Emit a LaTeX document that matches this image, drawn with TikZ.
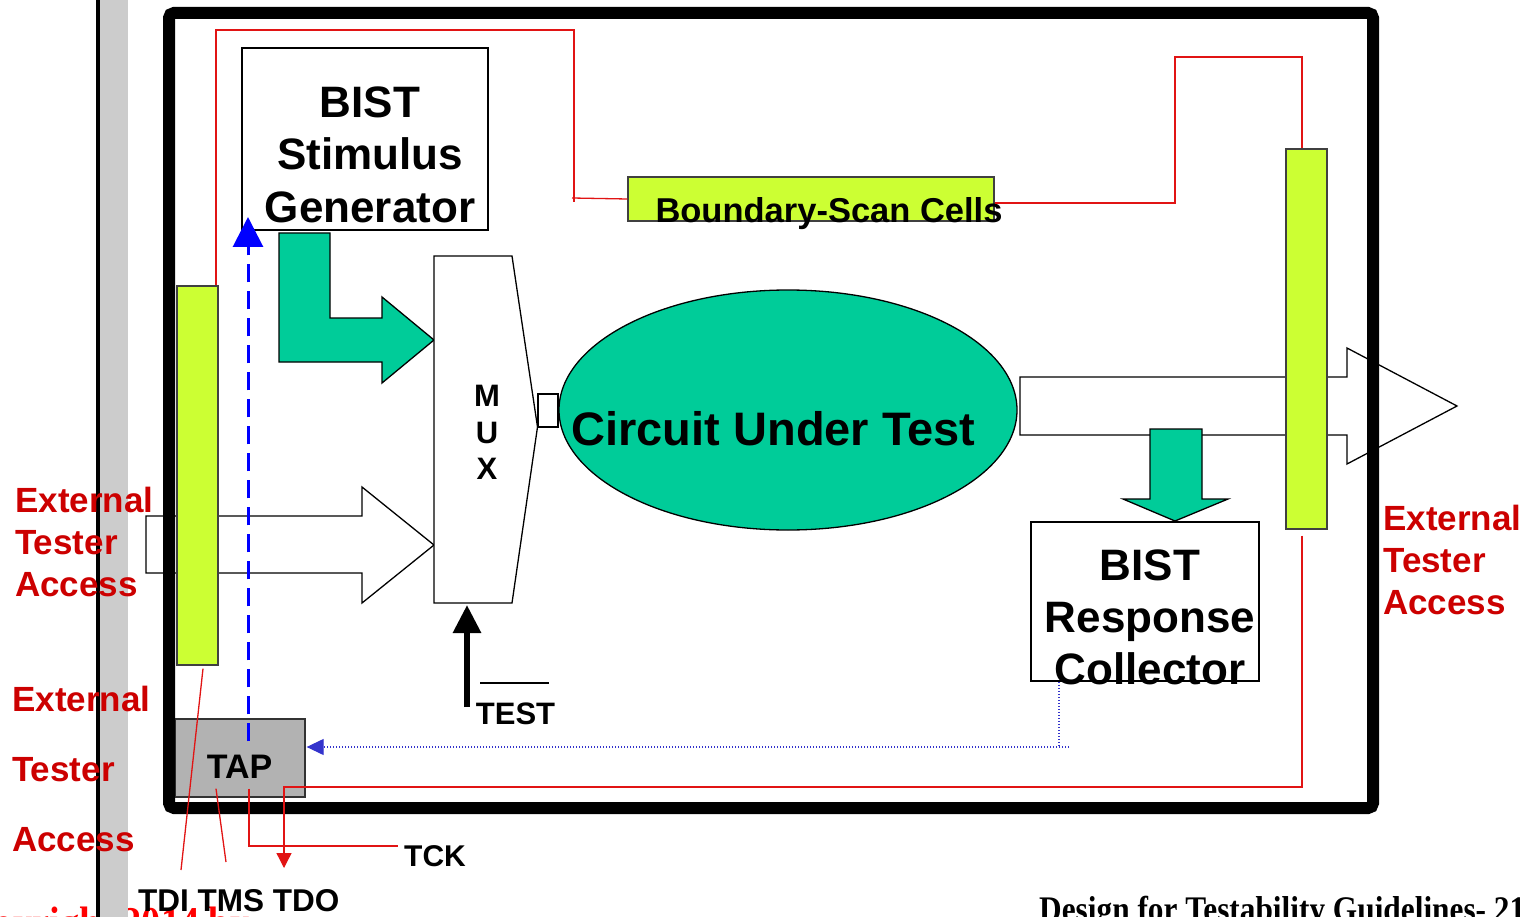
\documentclass[tikz,border=0pt]{standalone}
\usepackage{graphicx}
\usepackage{fontspec}
\setmainfont{Liberation Sans}
\newfontfamily\serifbf{Liberation Serif}
\usetikzlibrary{arrows.meta,shapes.geometric,calc}
\definecolor{cutgreen}{RGB}{0,204,153}
\definecolor{bsyellow}{RGB}{204,255,51}
\definecolor{tapgray}{RGB}{178,178,178}
\definecolor{bandgray}{RGB}{204,204,204}
\definecolor{labelred}{RGB}{204,0,0}
\definecolor{copyred}{RGB}{255,0,0}
\definecolor{wirered}{RGB}{225,20,20}
\definecolor{scanblue}{RGB}{0,0,255}
\definecolor{dotblue}{RGB}{51,51,204}
\tikzset{
  fsz/.style={font=\fontsize{#1}{#1}\selectfont\bfseries},
  box/.style={draw=black, line width=1.5pt, fill=white, inner sep=0pt},
  cellbar/.style={draw=black!75, line width=1.3pt, fill=bsyellow, inner sep=0pt},
  blockarrow/.style={draw=black, line width=1.3pt, fill=white},
  greenarrow/.style={draw=black, line width=1.3pt, fill=cutgreen},
  wire/.style={draw=wirered, line width=1.3pt},
  extlabel/.style={text=labelred, align=left, inner sep=0pt, anchor=west},
  lbl/.style={inner sep=0pt},
}
\begin{document}
\begin{tikzpicture}[x=1pt,y=-1pt]
\useasboundingbox (0,0) rectangle (1530,917);
\clip (0,0) rectangle (1530,917);

% copyright line (runs under the margin strip)
\node[lbl, anchor=base west, text=copyred, font=\serifbf\fontsize{44}{44}\selectfont\bfseries] (copy) at (-55,937) {\scalebox{0.87}[1]{Copyright 2014 by}};

% page margin strip
\fill[black] (96,0) rectangle (100,917);
\fill[bandgray] (100,0) rectangle (128,917);

% external data path block arrows (behind cells and chip outline)
\draw[blockarrow] (146,516) -- (362,516) -- (362,487) -- (434,545) -- (362,603) -- (362,573) -- (146,573) -- cycle;
\draw[blockarrow] (1020,377) -- (1347,377) -- (1347,348) -- (1457,406) -- (1347,464) -- (1347,435) -- (1020,435) -- cycle;

% BIST stimulus generator and its arrow into the MUX
\node[box, minimum width=246pt, minimum height=182pt] (stim) at (365,139) {};
\node[lbl, align=center, font=\fontsize{44}{52.5}\selectfont\bfseries] (stimtxt) at (370,154.75) {BIST\\Stimulus\\Generator};
\draw[greenarrow] (279,233) -- (330,233) -- (330,318) -- (382,318) -- (382,297) -- (434,340) -- (382,383) -- (382,362) -- (279,362) -- cycle;

% multiplexer
\coordinate (muxtl) at (434,256);
\coordinate (muxtr) at (512,256);
\coordinate (muxout) at (537.5,427);
\coordinate (muxbr) at (512,603);
\coordinate (muxbl) at (434,603);
\coordinate (muxsel) at (467,605);
\draw[line width=1.3pt, fill=white] (muxtl) -- (muxtr) -- (muxout) -- (muxbr) -- (muxbl) -- cycle;
\node[lbl, align=center, font=\fontsize{31}{36.5}\selectfont\bfseries] (muxtxt) at (487,432.5) {M\\U\\X};
\node[box, line width=1.3pt, minimum width=20pt, minimum height=33pt] (link) at (548,410.5) {};

% circuit under test
\node[ellipse, draw=black, line width=1.3pt, fill=cutgreen, minimum width=458pt, minimum height=240pt, inner sep=0pt] (cut) at (788,410) {};
\node[lbl, fsz=47, anchor=base] (cuttxt) at (773.5,445) {Circuit Under Test};

% response path into the collector
\draw[greenarrow] (1150,429) -- (1202,429) -- (1202,499) -- (1228,499) -- (1175,521) -- (1123,499) -- (1150,499) -- cycle;
\node[box, minimum width=228pt, minimum height=159pt] (resp) at (1145,601.5) {};
\node[lbl, align=center, font=\fontsize{44}{52}\selectfont\bfseries] (resptxt) at (1150,617.25) {BIST\\Response\\Collector};

% boundary-scan cells
\node[cellbar, minimum width=41pt, minimum height=379pt] (lbar) at (197.5,475.5) {};
\node[cellbar, minimum width=41pt, minimum height=380pt] (rbar) at (1306.5,339) {};
\node[cellbar, minimum width=366pt, minimum height=44pt] (bsc) at (811,199) {};
\node[lbl, fsz=34.5, anchor=base] (bsctxt) at (829,223) {Boundary-Scan Cells};

% test access port
\node[draw=black!80, line width=1.3pt, fill=tapgray, inner sep=0pt, minimum width=130pt, minimum height=78pt] (tap) at (240,758) {};
\node[lbl, fsz=34, anchor=base] (taptxt) at (239.5,778) {TAP};

% chip outline
\draw[line width=12pt, rounded corners=5pt] (169,13) rectangle (1373,808);

% scan chain wiring
\draw[wire] ($(lbar.north)+(18.5,0)$) |- (574,30) -- (574,202);
\draw[wire] (572,198) -- (bsc.west);
\draw[wire] ($(bsc.east)+(0,4)$) -- (1175,203) -- (1175,57) -| ($(rbar.north)+(-4.5,0)$);
\coordinate (tdo) at (284,868);
\draw[wire, -{Triangle[length=15pt,width=15pt]}] ($(rbar.south)+(-4.5,6)$) -- (1302,787) -- (284,787) -- (tdo);
\coordinate (tckin) at (398,846);
\draw[wire] ($(tap.south)+(9,-9)$) |- (tckin);
\coordinate (tmsin) at (226,862);
\draw[wire] ($(tap.south)+(-24,-9)$) -- (tmsin);
\coordinate (tdiin) at (181,870);
\draw[wire] ($(lbar.south)+(5.5,3)$) -- (tdiin);

% BIST control from the TAP and result back to the TAP
\coordinate (stimin) at (248,217);
\draw[scanblue, line width=3pt, dash pattern=on 18pt off 9pt, -{Triangle[length=30pt,width=30pt]}] ($(tap.north)+(8,23)$) -- (stimin);
\draw[dotblue, line width=1.2pt, dash pattern=on 1.2pt off 1.8pt] ($(resp.south)+(-86,0)$) -- (1059,747);
\draw[dotblue, line width=1.2pt, dash pattern=on 1.2pt off 1.8pt, -{Triangle[length=17pt,width=16pt]}] (1069,747) -- ($(tap.east)+(1,-11)$);

% TEST select input
\coordinate (testin) at (467,707);
\draw[line width=6pt, -{Triangle[length=28pt,width=27pt]}] (testin) -- (muxsel);
\node[lbl, fsz=31, anchor=base] (testtxt) at (515.5,724) {TEST};
\draw[line width=1.5pt] (480,683) -- (549,683);

% pin names
\node[lbl, fsz=30, anchor=base west] (tcktxt) at (404,866) {TCK};
\node[lbl, fsz=31.5, anchor=base west] (pintxt) at (138,911) {TDI TMS TDO};

% tester access labels
\node[extlabel, font=\fontsize{35}{42}\selectfont\bfseries] (extl) at (15,542.3) {External\\Tester\\Access};
\node[extlabel, font=\fontsize{35}{42}\selectfont\bfseries] (extr) at (1383,560.3) {External\\Tester\\Access};
\node[extlabel, font=\fontsize{35}{70}\selectfont\bfseries] (extb) at (12,769.3) {External\\Tester\\Access};

% page footer
\node[lbl, anchor=base west, font=\serifbf\fontsize{36}{36}\selectfont\bfseries] (footer) at (1039,921) {\scalebox{0.87}[1]{Design for Testability Guidelines- 21}};
\end{tikzpicture}
\end{document}
